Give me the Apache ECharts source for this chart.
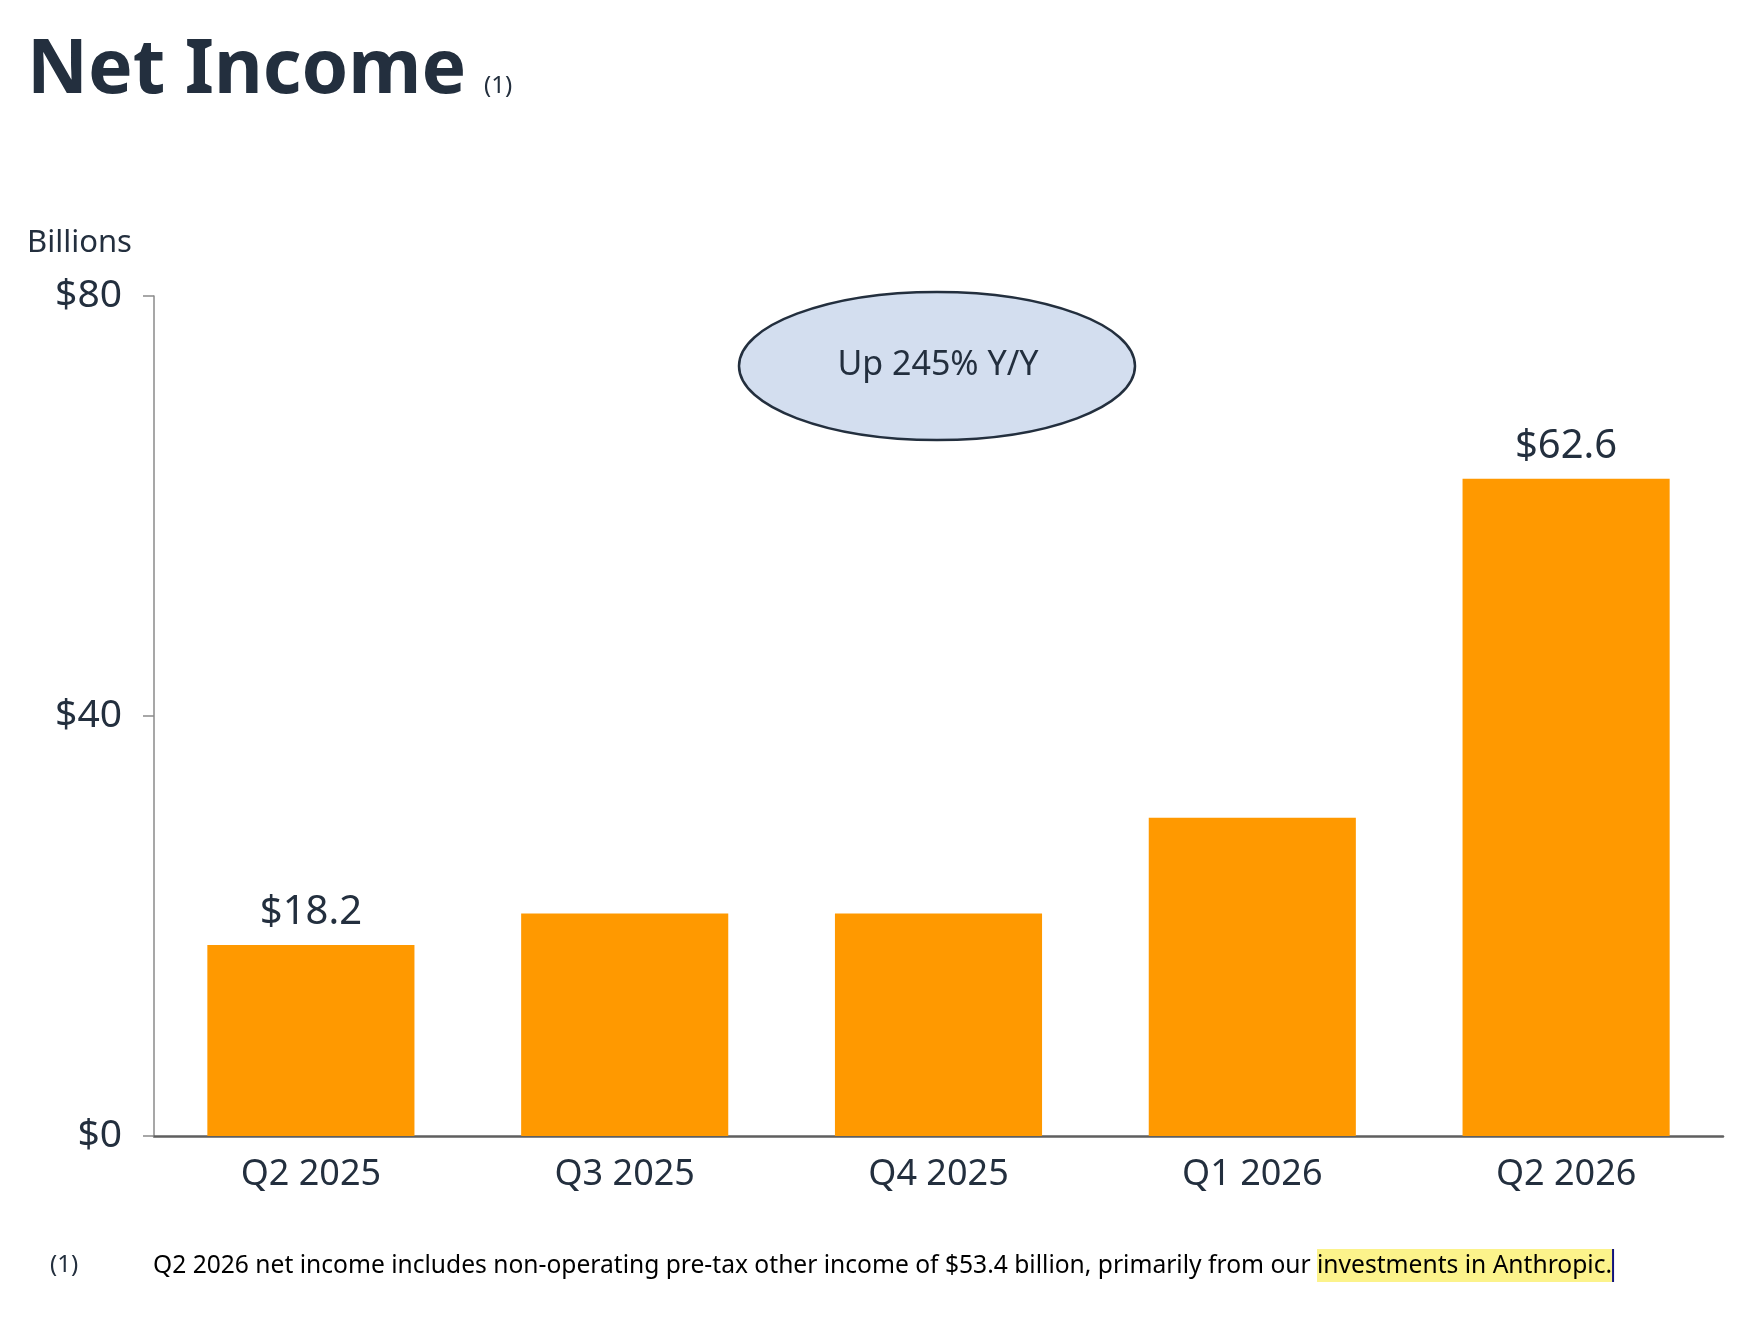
<!DOCTYPE html>
<html>
<head>
<meta charset="utf-8">
<script src="https://cdn.jsdelivr.net/npm/echarts@6/dist/echarts.min.js"></script>
<style>
  html, body { margin: 0; padding: 0; background: #fff; }
  #chart { width: 1750px; height: 1318px; }
</style>
</head>
<body>
<div id="chart"></div>
<script>
// quarters and net income, $ billions
const quarters = ['Q2 2025', 'Q3 2025', 'Q4 2025', 'Q1 2026', 'Q2 2026'];
const netIncome = [18.2, 21.2, 21.2, 30.3, 62.6];
const showLabel = [true, false, false, false, true];
const yTicks = [0, 40, 80];

const ink = '#232f3e';
const font = '"Noto Sans", "Open Sans", sans-serif';

const barData = netIncome.map(function (v, i) {
  return {
    value: v,
    label: { show: showLabel[i] }
  };
});

const chart = echarts.init(document.getElementById('chart'));

chart.setOption({
  backgroundColor: '#fff',
  animation: false,
  textStyle: { fontFamily: font, color: ink },
  grid: { left: 154, right: 27, top: 296, bottom: 182 },
  xAxis: {
    type: 'category',
    data: quarters,
    axisLine: { lineStyle: { color: '#5f5f5f', width: 2.5 } },
    axisTick: { alignWithLabel: true, length: 11, lineStyle: { color: '#808080', width: 2 } },
    axisLabel: { fontSize: 36, color: ink, margin: 21, fontFamily: font }
  },
  yAxis: {
    type: 'value',
    min: yTicks[0],
    max: yTicks[yTicks.length - 1],
    interval: yTicks[1] - yTicks[0],
    splitLine: { show: false },
    axisLine: { show: true, lineStyle: { color: '#8a8a8a', width: 1.5 } },
    axisTick: { show: true, length: 11, lineStyle: { color: '#8a8a8a', width: 1.5 } },
    axisLabel: {
      fontSize: 39, color: ink, margin: 32, fontFamily: font,
      formatter: function (v) { return '$' + v; }
    }
  },
  series: [{
    type: 'bar',
    data: barData,
    barCategoryGap: '34%',
    itemStyle: { color: '#ff9900' },
    label: {
      position: 'top',
      distance: 12,
      fontSize: 40,
      color: ink,
      fontFamily: font,
      formatter: function (p) { return '$' + p.value.toFixed(1); }
    }
  }],
  graphic: [
    {
      type: 'text', left: 27, top: 34,
      style: { text: 'Net Income', font: 'bold 75px ' + font, fill: ink }
    },
    {
      type: 'text', left: 484, top: 74,
      style: { text: '(1)', font: '24px ' + font, fill: ink }
    },
    {
      type: 'text', left: 27, top: 228,
      style: { text: 'Billions', font: '31px ' + font, fill: ink }
    },
    {
      type: 'ellipse',
      shape: { cx: 937, cy: 366, rx: 198, ry: 74 },
      style: { fill: '#d3deef', stroke: ink, lineWidth: 2.5 },
      z: 10
    },
    {
      type: 'text', x: 938, y: 365, z: 11,
      style: {
        text: 'Up 245% Y/Y', font: '34px ' + font, fill: ink,
        align: 'center', verticalAlign: 'middle'
      }
    },
    {
      type: 'text', left: 50, top: 1253,
      style: { text: '(1)', font: '24px ' + font, fill: ink }
    },
    {
      type: 'text', left: 153, top: 1249,
      style: {
        text: '{n|Q2 2026 net income includes non-operating pre-tax other income of $53.4 billion, primarily from our }{h|investments in Anthropic.}{c| }',
        rich: {
          n: { fontSize: 24.6, fontFamily: font, color: '#1b1b1b', lineHeight: 36 },
          h: { fontSize: 24.6, fontFamily: font, color: '#1b1b1b', backgroundColor: '#fcf38b', height: 33, lineHeight: 36 },
          c: { width: 2, height: 33, backgroundColor: '#12127a' }
        }
      }
    }
  ]
});
</script>
</body>
</html>
